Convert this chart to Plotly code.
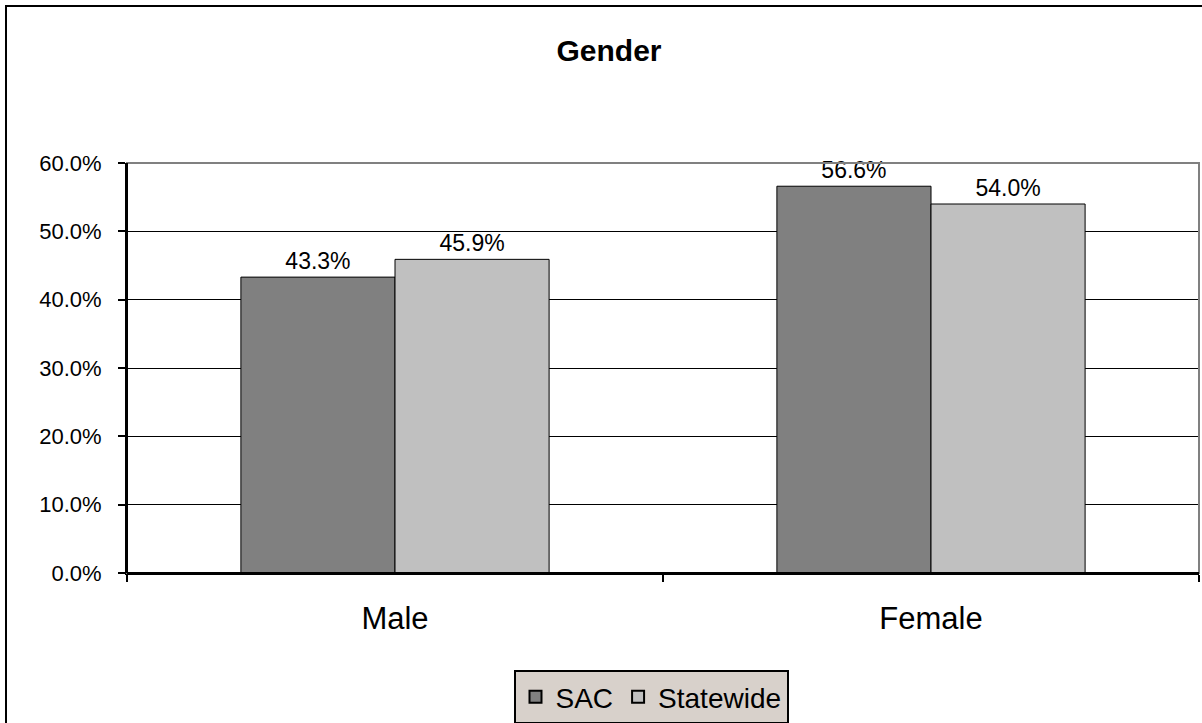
import plotly.graph_objects as go

categories = ["Male", "Female"]
sac_values = [43.3, 56.6]
statewide_values = [45.9, 54.0]
series_names = ["SAC", "Statewide"]
y_tick_values = [0, 10, 20, 30, 40, 50, 60]

FONT = "Arial, Liberation Sans, sans-serif"
W, H = 1202, 723
L, R, T, B = 127, 3, 163, 150
PW, PH = W - L - R, H - T - B

def px_x(x):
    return (x - L) / PW

def px_y(y):
    return (H - B - y) / PH

fig = go.Figure()
fig.add_trace(go.Bar(
    x=categories, y=sac_values, name=series_names[0],
    marker=dict(color="#808080", line=dict(color="black", width=1)),
    text=[f"{v:.1f}%" for v in sac_values], textposition="outside",
    textfont=dict(size=23, color="black", family=FONT), cliponaxis=False,
))
fig.add_trace(go.Bar(
    x=categories, y=statewide_values, name=series_names[1],
    marker=dict(color="#C0C0C0", line=dict(color="black", width=1)),
    text=[f"{v:.1f}%" for v in statewide_values], textposition="outside",
    textfont=dict(size=23, color="black", family=FONT), cliponaxis=False,
))

fig.update_layout(
    width=W, height=H,
    margin=dict(l=L, r=R, t=T, b=B, autoexpand=False),
    paper_bgcolor="white", plot_bgcolor="white",
    font=dict(family=FONT, color="black"),
    barmode="group", bargap=0.425, bargroupgap=0,
    title=dict(text="<b>Gender</b>", x=px_x(609), xref="paper", xanchor="center",
               y=1 - 50 / H, yanchor="middle", font=dict(size=30, family=FONT, color="black")),
    showlegend=True,
    legend=dict(orientation="h", x=px_x(651), xanchor="center", y=px_y(697), yanchor="middle",
                bgcolor="#D8D1CB", bordercolor="black", borderwidth=2,
                font=dict(size=28, family=FONT, color="black"),
                itemsizing="constant", tracegroupgap=0),
)
fig.update_yaxes(
    range=[0, 60], tickvals=y_tick_values,
    ticktext=[f"{v:.1f}%" for v in y_tick_values],
    showgrid=True, gridcolor="black", gridwidth=1,
    showline=True, linecolor="black", linewidth=2,
    ticks="outside", ticklen=7, tickwidth=2, tickcolor="black",
    ticklabelstandoff=12,
    tickfont=dict(size=22, family=FONT, color="black"),
    zeroline=False, fixedrange=True,
)
fig.update_xaxes(
    showline=True, linecolor="black", linewidth=2,
    ticks="outside", ticklen=7, tickwidth=2, tickcolor="black",
    tickson="boundaries", ticklabelstandoff=17,
    tickfont=dict(size=31, family=FONT, color="black"),
    showgrid=False, fixedrange=True,
)
fig.add_shape(type="rect", xref="paper", yref="paper", x0=0, x1=1, y0=0, y1=1,
              line=dict(color="#808080", width=2), layer="above")
fig.add_shape(type="line", xref="paper", yref="paper", x0=0, x1=0, y0=0, y1=1,
              line=dict(color="black", width=2), layer="above")
fig.add_shape(type="line", xref="paper", yref="paper", x0=0, x1=1, y0=0, y1=0,
              line=dict(color="black", width=2), layer="above")
fig.add_shape(type="rect", xref="paper", yref="paper",
              x0=px_x(6), x1=px_x(1240), y0=px_y(760), y1=px_y(6),
              line=dict(color="black", width=2), layer="above")

fig.write_html("out.html", config={"displayModeBar": False},
               post_script="document.body.style.margin='0px';document.body.style.overflow='hidden';")
